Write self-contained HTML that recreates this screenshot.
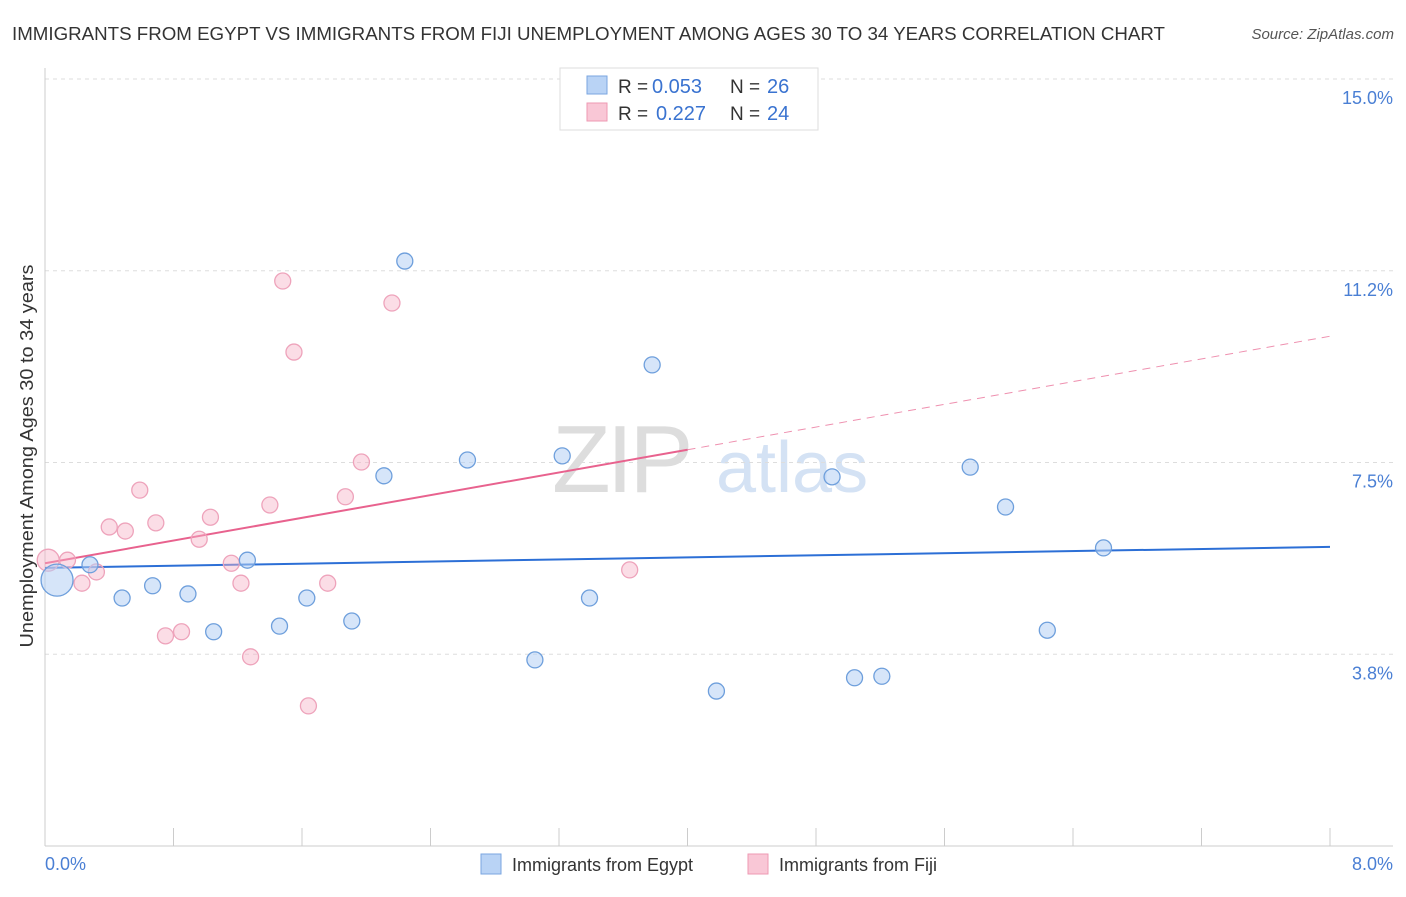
<!DOCTYPE html>
<html><head><meta charset="utf-8"><style>
body{margin:0;background:#fff;font-family:"Liberation Sans",sans-serif}
svg text{font-family:"Liberation Sans",sans-serif}
</style></head><body>
<svg id="chart" width="1406" height="892" viewBox="0 0 1406 892">
<text x="12" y="40" font-size="18" fill="#333" textLength="1153" lengthAdjust="spacingAndGlyphs">IMMIGRANTS FROM EGYPT VS IMMIGRANTS FROM FIJI UNEMPLOYMENT AMONG AGES 30 TO 34 YEARS CORRELATION CHART</text>
<text x="1394" y="39" font-size="15" fill="#555" font-style="italic" text-anchor="end">Source: ZipAtlas.com</text>
<g><text x="552" y="492" font-size="96" fill="#ddd" font-family="Liberation Serif" letter-spacing="-4">ZIP</text><text x="716" y="492" font-size="72" fill="#d4e2f4">atlas</text></g>
<g id="grid"></g><g id="axes"></g><g id="trends"></g><g id="pts"></g>
<text x="33" y="456" font-size="18" fill="#333" text-anchor="middle" textLength="383" lengthAdjust="spacingAndGlyphs" transform="rotate(-90 33 456)">Unemployment Among Ages 30 to 34 years</text>
<text x="45" y="870" font-size="18" fill="#4a7fd4">0.0%</text>
<text x="1393" y="870" font-size="18" fill="#4a7fd4" text-anchor="end">8.0%</text>
<g>
<rect x="560" y="68" width="258" height="62" fill="#fff" stroke="#ddd"/>
<rect x="587" y="76" width="20" height="18" fill="#b9d3f5" stroke="#7aa6e0"/>
<rect x="587" y="103" width="20" height="18" fill="#f9c7d6" stroke="#ee99b3"/>
<text x="618" y="93" font-size="19" fill="#333">R =</text>
<text x="652" y="93" font-size="20" fill="#3a73d0">0.053</text>
<text x="730" y="93" font-size="19" fill="#333">N =</text>
<text x="767" y="93" font-size="20" fill="#3a73d0">26</text>
<text x="618" y="120" font-size="19" fill="#333">R =</text>
<text x="656" y="120" font-size="20" fill="#3a73d0">0.227</text>
<text x="730" y="120" font-size="19" fill="#333">N =</text>
<text x="767" y="120" font-size="20" fill="#3a73d0">24</text>
</g>
<g>
<rect x="481" y="854" width="20" height="20" fill="#b9d3f5" stroke="#7aa6e0"/>
<text x="512" y="871" font-size="18" fill="#333">Immigrants from Egypt</text>
<rect x="748" y="854" width="20" height="20" fill="#f9c7d6" stroke="#ee99b3"/>
<text x="779" y="871" font-size="18" fill="#333">Immigrants from Fiji</text>
</g>
</svg>
<script>
const yTicks=[3.75,7.5,11.25,15];
const yTickLabels=["3.8%","7.5%","11.2%","15.0%"];
const xTicks=[0,0.8,1.6,2.4,3.2,4,4.8,5.6,6.4,7.2,8];
const egyptX=[0.075,0.28,0.48,0.67,0.89,1.05,1.26,1.46,1.63,1.91,2.11,2.24,2.63,3.05,3.22,3.39,3.78,4.18,4.90,5.04,5.21,5.76,5.98,6.24,6.59];
const egyptY=[5.20,5.50,4.85,5.09,4.93,4.19,5.59,4.30,4.85,4.40,7.24,11.44,7.55,3.64,7.63,4.85,9.41,3.03,7.22,3.29,3.32,7.41,6.63,4.22,5.83];
const fijiX=[0.02,0.14,0.23,0.32,0.40,0.50,0.59,0.69,0.75,0.85,0.96,1.03,1.16,1.22,1.28,1.40,1.48,1.55,1.64,1.76,1.87,1.97,2.16,3.64];
const fijiY=[5.59,5.59,5.14,5.36,6.24,6.16,6.96,6.32,4.11,4.19,6.00,6.43,5.53,5.14,3.70,6.67,11.05,9.66,2.74,5.14,6.83,7.51,10.62,5.40];
const egyptTrend=[5.44,5.85];
const fijiTrend=[5.53,9.97];
const fijiSolidEnd=4;
const NS="http://www.w3.org/2000/svg";
const X=v=>45+v/8*1285, Y=v=>846-v*51.13;
function mk(p,t,a){const e=document.createElementNS(NS,t);for(const k in a)e.setAttribute(k,a[k]);document.getElementById(p).appendChild(e);return e;}
yTicks.forEach((t,i)=>{
 const l=mk('grid','line',{x1:45,x2:1393,y1:Y(t),y2:Y(t),stroke:'#ddd','stroke-dasharray':'4,4'});
 
 
 const tx=mk('grid','text',{x:1393,y:Y(t)+25,'font-size':18,fill:'#4a7fd4','text-anchor':'end'});
 tx.textContent=yTickLabels[i];
 
 
});
let ax=mk('axes','line',{x1:45,x2:45,y1:68,y2:846,stroke:'#ccc'});


ax=mk('axes','line',{x1:45,x2:1393,y1:846,y2:846,stroke:'#ccc'});


xTicks.forEach(t=>{const l=mk('axes','line',{x1:X(t),x2:X(t),y1:828,y2:846,stroke:'#ccc'});
 
 });
let tl=mk('trends','line',{x1:X(0),y1:Y(egyptTrend[0]),x2:X(8),y2:Y(egyptTrend[1]),stroke:'#2c6fd6','stroke-width':2});


const fy=v=>fijiTrend[0]+(fijiTrend[1]-fijiTrend[0])*v/8;
tl=mk('trends','line',{x1:X(0),y1:Y(fy(0)),x2:X(fijiSolidEnd),y2:Y(fy(fijiSolidEnd)),stroke:'#e8628e','stroke-width':2});


tl=mk('trends','line',{x1:X(fijiSolidEnd),y1:Y(fy(fijiSolidEnd)),x2:X(8),y2:Y(fy(8)),stroke:'#e8628e','stroke-width':1,'stroke-dasharray':'8,6','opacity':0.7});


fijiX.forEach((x,i)=>{const c=mk('pts','circle',{cx:X(x),cy:Y(fijiY[i]),r:i==0?11:8,fill:'rgba(246,180,200,0.45)',stroke:'#eea3bb','stroke-width':1.3});
 
 });
egyptX.forEach((x,i)=>{const c=mk('pts','circle',{cx:X(x),cy:Y(egyptY[i]),r:i==0?16:8,fill:'rgba(180,207,244,0.55)',stroke:'#6e9fdc','stroke-width':1.3});
 
 });
</script>
</body></html>
